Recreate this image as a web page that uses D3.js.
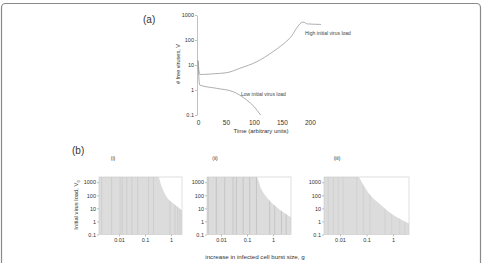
<!DOCTYPE html>
<html>
<head>
<meta charset="utf-8">
<script src="https://cdn.jsdelivr.net/npm/d3@7"></script>
<style>
  body { margin: 0; background: #fff; }
  svg { display: block; font-family: "Liberation Sans", Arial, sans-serif; }
  .tick text { fill: #333; }
</style>
</head>
<body>
<div id="chart"></div>
<script>
// panel (a): free virus over time
var timeHigh = [0, 3, 10, 30, 51, 75, 105, 134, 164, 188, 196, 220];
var virusHigh = [15, 4.2, 4.2, 4.5, 4.9, 7.4, 13.5, 34, 117, 520, 440, 420];
var timeLow = [0, 3, 33, 63, 87, 100, 112];
var virusLow = [15, 1.58, 1.17, 0.85, 0.4, 0.22, 0.1];
var timeTicks = [0, 50, 100, 150, 200];
var virusTicks = [0.1, 1, 10, 100, 1000];

// panel (b): boundary of shaded region (g, threshold V0) per subpanel
var titlesB = ['(i)', '(ii)', '(iii)'];
var edgeG1 = [0.0017, 0.32, 0.44, 0.68, 1.23, 2.63];
var edgeV1 = [2500, 2500, 435, 75, 23, 7];
var edgeG2 = [0.0029, 0.23, 0.35, 0.64, 1.35, 4.9];
var edgeV2 = [2500, 2500, 320, 55, 12.6, 2.1];
var edgeG3 = [0.0025, 0.048, 0.076, 0.1, 0.42, 0.57, 4.0];
var edgeV3 = [2500, 2500, 620, 250, 13, 7.4, 0.7];
// darker stripes seen in the shaded region
var stripes1 = [0.00216, 0.0052, 0.011, 0.0134, 0.0198, 0.031, 0.052, 0.135, 0.21, 0.91, 1.42, 1.8, 2.2];
var stripes2 = [0.0032, 0.0066, 0.0139, 0.029, 0.039, 0.071, 0.127, 0.23, 0.74, 1.16, 2.1, 3.2];
var stripes3 = [0.0036, 0.0056, 0.0086, 0.0133, 0.043, 0.076, 0.135, 0.5, 0.89, 1.8, 2.8];
var gTicks = [0.01, 0.1, 1];
var v0Ticks = [0.1, 1, 10, 100, 1000];

var W = 483, H = 263;
var svg = d3.select('#chart').append('svg').attr('width', W).attr('height', H);

svg.append('rect')
  .attr('x', 1.5).attr('y', 3.5).attr('width', 479).attr('height', 275)
  .attr('rx', 4).attr('fill', 'none').attr('stroke', '#8a8a8a').attr('stroke-width', 1.2);

function fmt(d) { return d >= 1 ? d3.format('d')(d) : String(d); }

// ---- panel (a)
var xa = d3.scaleLinear().domain([0, 220]).range([198, 321]);
var ya = d3.scaleLog().domain([0.1, 1000]).range([115, 15]);

svg.append('text').attr('x', 143).attr('y', 23).attr('font-size', 10).attr('fill', '#333').text('(a)');

var axA = svg.append('g').attr('transform', 'translate(197,0)')
  .call(d3.axisLeft(ya).tickValues(virusTicks).tickFormat(fmt).tickSize(2).tickSizeOuter(0).tickPadding(1));
var axAx = svg.append('g').attr('transform', 'translate(0,117)')
  .call(d3.axisBottom(xa).tickValues(timeTicks).tickSize(0).tickPadding(3));
axAx.select('.domain').remove();
[axA, axAx].forEach(function(a) {
  a.selectAll('text').attr('font-size', 5.5);
  a.selectAll('path,line').attr('stroke', '#999').attr('stroke-width', 0.6);
});
axAx.selectAll('text').attr('font-size', 6.5);

var line = d3.line().x(function(d) { return xa(d[0]); }).y(function(d) { return ya(d[1]); })
  .curve(d3.curveMonotoneX);
[[timeHigh, virusHigh], [timeLow, virusLow]].forEach(function(s) {
  svg.append('path').datum(d3.zip(s[0], s[1]))
    .attr('d', line).attr('fill', 'none').attr('stroke', '#8c8c8c').attr('stroke-width', 0.7);
});

svg.append('text').attr('x', 305).attr('y', 35).attr('font-size', 5).attr('fill', '#444').text('High initial virus load');
svg.append('text').attr('x', 241).attr('y', 95.5).attr('font-size', 5).attr('fill', '#444').text('Low initial virus load');
svg.append('text').attr('x', 261).attr('y', 133).attr('text-anchor', 'middle').attr('font-size', 6).attr('fill', '#333')
  .text('Time (arbitrary units)');
svg.append('text').attr('transform', 'translate(180,64) rotate(-90)').attr('text-anchor', 'middle')
  .attr('font-size', 5.5).attr('fill', '#333').text('# free viruses, V');

// ---- panel (b)
svg.append('text').attr('x', 72).attr('y', 154).attr('font-size', 10).attr('fill', '#333').text('(b)');

var panels = [
  { x0: 99, x1: 182, g: edgeG1, v: edgeV1, s: stripes1, t: 113, sc: '#c4c4c4' },
  { x0: 207, x1: 291, g: edgeG2, v: edgeV2, s: stripes2, t: 215, sc: '#b6b6b6' },
  { x0: 324, x1: 409, g: edgeG3, v: edgeV3, s: stripes3, t: 337, sc: '#cbcbcb' }
];
var yb = d3.scaleLog().domain([0.1, 2500]).range([234.5, 177]);

panels.forEach(function(p, i) {
  var xb = d3.scaleLog().domain([p.g[0], p.g[p.g.length - 1]]).range([p.x0, p.x1]);
  var pts = d3.zip(p.g, p.v);
  var area = d3.area().x(function(d) { return xb(d[0]); })
    .y0(yb(0.1)).y1(function(d) { return yb(d[1]); })
    .curve(d3.curveMonotoneX);

  svg.append('clipPath').attr('id', 'clip' + i).append('path').datum(pts).attr('d', area);
  svg.append('path').datum(pts).attr('d', area).attr('fill', '#dcdcdc');
  svg.append('g').attr('clip-path', 'url(#clip' + i + ')')
    .selectAll('line').data(p.s).enter().append('line')
    .attr('x1', function(d) { return xb(d); }).attr('x2', function(d) { return xb(d); })
    .attr('y1', yb(2500)).attr('y2', yb(0.1))
    .attr('stroke', p.sc).attr('stroke-width', 0.6);

  svg.append('rect').attr('x', p.x0).attr('y', 177).attr('width', p.x1 - p.x0).attr('height', 234.5 - 177)
    .attr('fill', 'none').attr('stroke', '#c8c8c8').attr('stroke-width', 0.6);

  var ay = svg.append('g').attr('transform', 'translate(' + p.x0 + ',0)')
    .call(d3.axisLeft(yb).tickValues(v0Ticks).tickFormat(fmt).tickSize(2).tickPadding(1));
  var ax = svg.append('g').attr('transform', 'translate(0,234.5)')
    .call(d3.axisBottom(xb).tickValues(gTicks).tickFormat(fmt).tickSize(2).tickPadding(2));
  [ay, ax].forEach(function(a) {
    a.select('.domain').remove();
    a.selectAll('text').attr('font-size', 5.5);
    a.selectAll('line').attr('stroke', '#999').attr('stroke-width', 0.6);
  });

  svg.append('text').attr('x', p.t).attr('y', 160).attr('text-anchor', 'middle')
    .attr('font-size', 5).attr('fill', '#333').text(titlesB[i]);
});

var v0 = svg.append('text').attr('transform', 'translate(78,205) rotate(-90)').attr('text-anchor', 'middle')
  .attr('font-size', 5.8).attr('fill', '#333');
v0.append('tspan').text('Initial virus load, V');
v0.append('tspan').attr('font-size', 4).attr('dy', 1.5).text('0');

svg.append('text').attr('x', 255).attr('y', 259).attr('text-anchor', 'middle').attr('font-size', 6.2).attr('fill', '#333')
  .text('increase in infected cell burst size, g');
</script>
</body>
</html>
